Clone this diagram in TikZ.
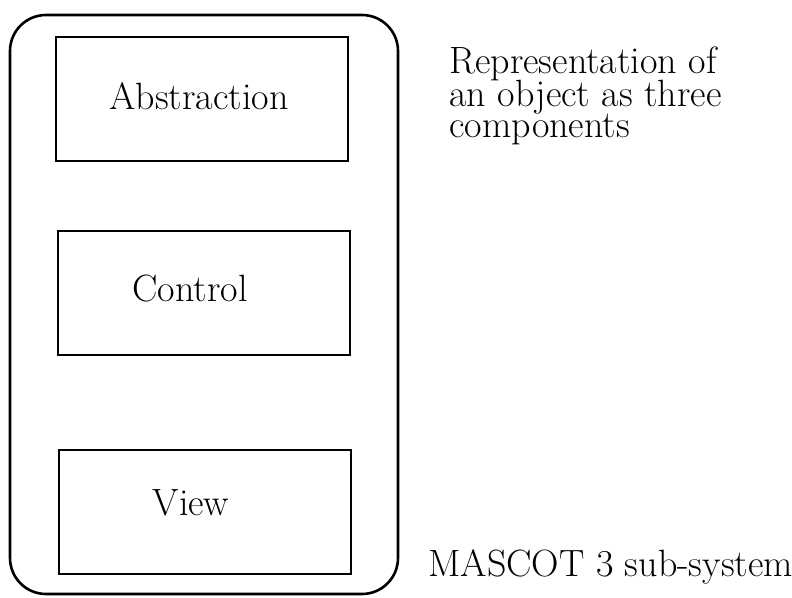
\documentclass[tikz,border=0pt]{standalone}
\usepackage{tikz}
\usetikzlibrary{positioning}

\begin{document}
\begin{tikzpicture}[x = .5pt, y = -.5pt,
  part/.style = {draw, line width = 1pt, minimum width = 146pt, minimum height = 62pt},
  word/.style = {font = \fontsize{19}{22}\selectfont, inner sep = 0pt}]
\useasboundingbox (0,0) rectangle (792,598);
\draw[line width = 1.3pt, rounded corners = 18pt] (10,15) rectangle (398,594);
\node[part] (abs) at (202,99) {};
\node[word, anchor = base] (abstext) at (199,110) {Abstraction};
\node[part] (ctl) at (204,293) {};
\node[word, anchor = base] (ctltext) at (190,302) {Control};
\node[part] (view) at (205,512) {};
\node[word, anchor = base] (viewtext) at (191,515) {View};
\node[word, anchor = north west, align = left, font = \fontsize{19}{15.4}\selectfont] (rep) at (449,46) {Representation of\\[-1pt]an object as three\\[-1pt]components};
\node[word, anchor = base west] (sub) at (428,576) {MASCOT 3 sub-system};
\end{tikzpicture}
\end{document}
